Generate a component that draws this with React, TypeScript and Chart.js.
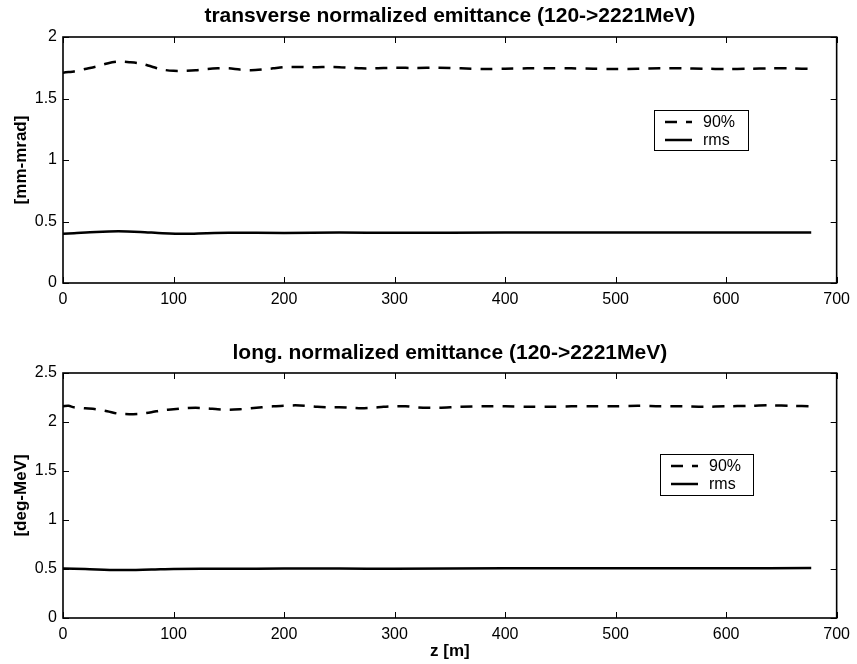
import React, { useEffect, useRef } from "react";
import { Chart, registerables } from "chart.js";

Chart.register(...registerables);

// ---------- data ----------
const zTrans = [0, 5, 10, 20, 30, 40, 50, 60, 70, 80, 90, 100, 110, 120, 130, 140, 150, 160, 170, 180, 190, 200, 210, 220, 230, 240, 250, 260, 270, 280, 290, 300, 320, 340, 360, 380, 400, 420, 440, 460, 480, 500, 520, 540, 560, 580, 600, 620, 640, 660, 677];
const trans90 = [1.71, 1.715, 1.72, 1.74, 1.76, 1.785, 1.8, 1.795, 1.785, 1.76, 1.735, 1.725, 1.725, 1.73, 1.74, 1.745, 1.745, 1.735, 1.73, 1.735, 1.745, 1.755, 1.757, 1.755, 1.755, 1.757, 1.755, 1.75, 1.745, 1.745, 1.748, 1.75, 1.748, 1.75, 1.745, 1.74, 1.742, 1.745, 1.745, 1.745, 1.742, 1.74, 1.742, 1.745, 1.745, 1.742, 1.74, 1.742, 1.745, 1.745, 1.74];
const zTransRms = [0, 10, 30, 50, 70, 90, 110, 130, 150, 200, 250, 300, 400, 500, 600, 677];
const transRms = [0.4, 0.405, 0.415, 0.42, 0.415, 0.405, 0.4, 0.405, 0.408, 0.407, 0.41, 0.408, 0.41, 0.41, 0.41, 0.41];

const zLong = [0, 5, 10, 20, 30, 40, 50, 60, 70, 80, 90, 100, 110, 120, 130, 140, 150, 160, 170, 180, 190, 200, 210, 220, 230, 240, 250, 260, 270, 280, 290, 300, 310, 320, 330, 340, 360, 380, 400, 420, 440, 460, 480, 500, 520, 540, 560, 580, 600, 620, 640, 660, 677];
const long90 = [2.16, 2.165, 2.15, 2.14, 2.13, 2.11, 2.085, 2.08, 2.085, 2.1, 2.12, 2.13, 2.14, 2.145, 2.14, 2.13, 2.125, 2.13, 2.14, 2.15, 2.16, 2.165, 2.17, 2.165, 2.155, 2.15, 2.15, 2.145, 2.14, 2.145, 2.155, 2.16, 2.16, 2.15, 2.145, 2.145, 2.155, 2.16, 2.16, 2.155, 2.155, 2.16, 2.16, 2.16, 2.165, 2.16, 2.16, 2.155, 2.16, 2.165, 2.17, 2.165, 2.16];
const zLongRms = [0, 20, 50, 80, 100, 150, 200, 250, 300, 400, 500, 600, 677];
const longRms = [0.505, 0.5, 0.49, 0.495, 0.5, 0.502, 0.505, 0.505, 0.503, 0.507, 0.507, 0.508, 0.51];

const xTicks = { min: 0, max: 700, step: 100 };
const seriesLabels = ["90%", "rms"];
const transTitle = "transverse normalized emittance (120->2221MeV)";
const longTitle = "long. normalized emittance (120->2221MeV)";
const transYLabel = "[mm-mrad]";
const longYLabel = "[deg-MeV]";
const xLabel = "z [m]";

const FONT = "'Liberation Sans', Arial, Helvetica, sans-serif";

const toPts = (xs: number[], ys: number[]) => xs.map((x, i) => ({ x, y: ys[i] }));

const framePlugin = {
  id: "frame",
  afterDraw(chart: any, _args: any, opts: any) {
    const { ctx, chartArea: a } = chart;
    const xs = chart.scales.x;
    const ys = chart.scales.y;
    ctx.save();
    ctx.strokeStyle = "#000";
    ctx.lineWidth = 1;
    const tl = 6;
    xs.ticks.forEach((t: any) => {
      const px = Math.round(xs.getPixelForValue(t.value)) + 0.5;
      ctx.beginPath();
      ctx.moveTo(px, a.bottom);
      ctx.lineTo(px, a.bottom - tl);
      ctx.moveTo(px, a.top);
      ctx.lineTo(px, a.top + tl);
      ctx.stroke();
    });
    ys.ticks.forEach((t: any) => {
      const py = Math.round(ys.getPixelForValue(t.value)) + 0.5;
      ctx.beginPath();
      ctx.moveTo(a.left, py);
      ctx.lineTo(a.left + tl, py);
      ctx.moveTo(a.right, py);
      ctx.lineTo(a.right - tl, py);
      ctx.stroke();
    });
    ctx.lineWidth = 1.6;
    ctx.strokeRect(a.left, a.top, a.right - a.left, a.bottom - a.top);
    ctx.fillStyle = "#000";
    ctx.font = `bold 21px ${FONT}`;
    ctx.textAlign = "center";
    ctx.textBaseline = "middle";
    ctx.fillText(opts.title, (a.left + a.right) / 2, opts.titleY);
    const lx = a.left + opts.legendX;
    const ly = a.top + opts.legendY;
    const lw = opts.legendW;
    const lh = opts.legendH;
    ctx.fillStyle = "#fff";
    ctx.fillRect(lx, ly, lw, lh);
    ctx.lineWidth = 1;
    ctx.strokeStyle = "#000";
    ctx.strokeRect(lx + 0.5, ly + 0.5, lw, lh);
    ctx.font = `16px ${FONT}`;
    ctx.textAlign = "left";
    chart.data.datasets.forEach((ds: any, i: number) => {
      const yy = ly + 12 + i * 18;
      ctx.beginPath();
      ctx.setLineDash(ds.borderDash || []);
      ctx.lineWidth = 2.5;
      ctx.moveTo(lx + 11, yy);
      ctx.lineTo(lx + 38, yy);
      ctx.stroke();
      ctx.setLineDash([]);
      ctx.fillStyle = "#000";
      ctx.fillText(ds.label, lx + 49, yy + 1);
    });
    ctx.restore();
  },
};

function makeConfig(opts: {
  d90: { x: number; y: number }[];
  dRms: { x: number; y: number }[];
  yMax: number;
  yLabel: string;
  xLabel?: string;
  title: string;
  titleY: number;
  padTop: number;
  xHeight: number;
  legendX: number;
  legendY: number;
  legendW: number;
  legendH: number;
}): any {
  return {
    type: "line",
    data: {
      datasets: [
        {
          label: seriesLabels[0],
          data: opts.d90,
          borderColor: "#000",
          borderWidth: 2.5,
          borderDash: [12, 9],
          pointRadius: 0,
          tension: 0.3,
          fill: false,
        },
        {
          label: seriesLabels[1],
          data: opts.dRms,
          borderColor: "#000",
          borderWidth: 2.5,
          pointRadius: 0,
          tension: 0.3,
          fill: false,
        },
      ],
    },
    options: {
      responsive: false,
      animation: false,
      devicePixelRatio: 1,
      layout: { padding: { top: opts.padTop, right: 19, left: 0, bottom: 0 } },
      plugins: {
        legend: { display: false },
        title: { display: false },
        tooltip: { enabled: false },
        frame: {
          title: opts.title,
          titleY: opts.titleY,
          legendX: opts.legendX,
          legendY: opts.legendY,
          legendW: opts.legendW,
          legendH: opts.legendH,
        },
      },
      scales: {
        x: {
          type: "linear",
          min: xTicks.min,
          max: xTicks.max,
          grid: { display: false, drawTicks: false },
          border: { display: false },
          ticks: {
            stepSize: xTicks.step,
            autoSkip: false,
            maxRotation: 0,
            padding: 7,
            color: "#000",
            font: { family: FONT, size: 16 },
            callback: (v: any) => String(v),
          },
          title: opts.xLabel
            ? {
                display: true,
                text: opts.xLabel,
                color: "#000",
                font: { family: FONT, size: 17, weight: "bold" },
                padding: { top: 0, bottom: 2 },
              }
            : { display: false },
          afterFit: (s: any) => {
            s.height = opts.xHeight;
          },
        },
        y: {
          min: 0,
          max: opts.yMax,
          grid: { display: false, drawTicks: false },
          border: { display: false },
          ticks: {
            stepSize: 0.5,
            autoSkip: false,
            padding: 6,
            color: "#000",
            font: { family: FONT, size: 16 },
            callback: (v: any) => String(v),
          },
          title: {
            display: true,
            text: opts.yLabel,
            color: "#000",
            font: { family: FONT, size: 17, weight: "bold" },
            padding: { top: 11, bottom: 0 },
          },
          afterFit: (s: any) => {
            s.width = 63;
          },
        },
      },
    },
    plugins: [framePlugin],
  };
}

export default function App() {
  const topRef = useRef<HTMLCanvasElement>(null);
  const botRef = useRef<HTMLCanvasElement>(null);

  useEffect(() => {
    const c1 = new Chart(
      topRef.current!,
      makeConfig({
        d90: toPts(zTrans, trans90),
        dRms: toPts(zTransRms, transRms),
        yMax: 2,
        yLabel: transYLabel,
        title: transTitle,
        titleY: 16,
        padTop: 37,
        xHeight: 49,
        legendX: 591,
        legendY: 73,
        legendW: 94,
        legendH: 40,
      })
    );
    const c2 = new Chart(
      botRef.current!,
      makeConfig({
        d90: toPts(zLong, long90),
        dRms: toPts(zLongRms, longRms),
        yMax: 2.5,
        yLabel: longYLabel,
        xLabel: xLabel,
        title: longTitle,
        titleY: 21,
        padTop: 41,
        xHeight: 46,
        legendX: 597,
        legendY: 81,
        legendW: 93,
        legendH: 41,
      })
    );
    return () => {
      c1.destroy();
      c2.destroy();
    };
  }, []);

  return (
    <div style={{ position: "absolute", left: 0, top: 0, width: 857, height: 664, background: "#fff" }}>
      <canvas ref={topRef} width={857} height={332} style={{ display: "block" }} />
      <canvas ref={botRef} width={857} height={332} style={{ display: "block" }} />
    </div>
  );
}
